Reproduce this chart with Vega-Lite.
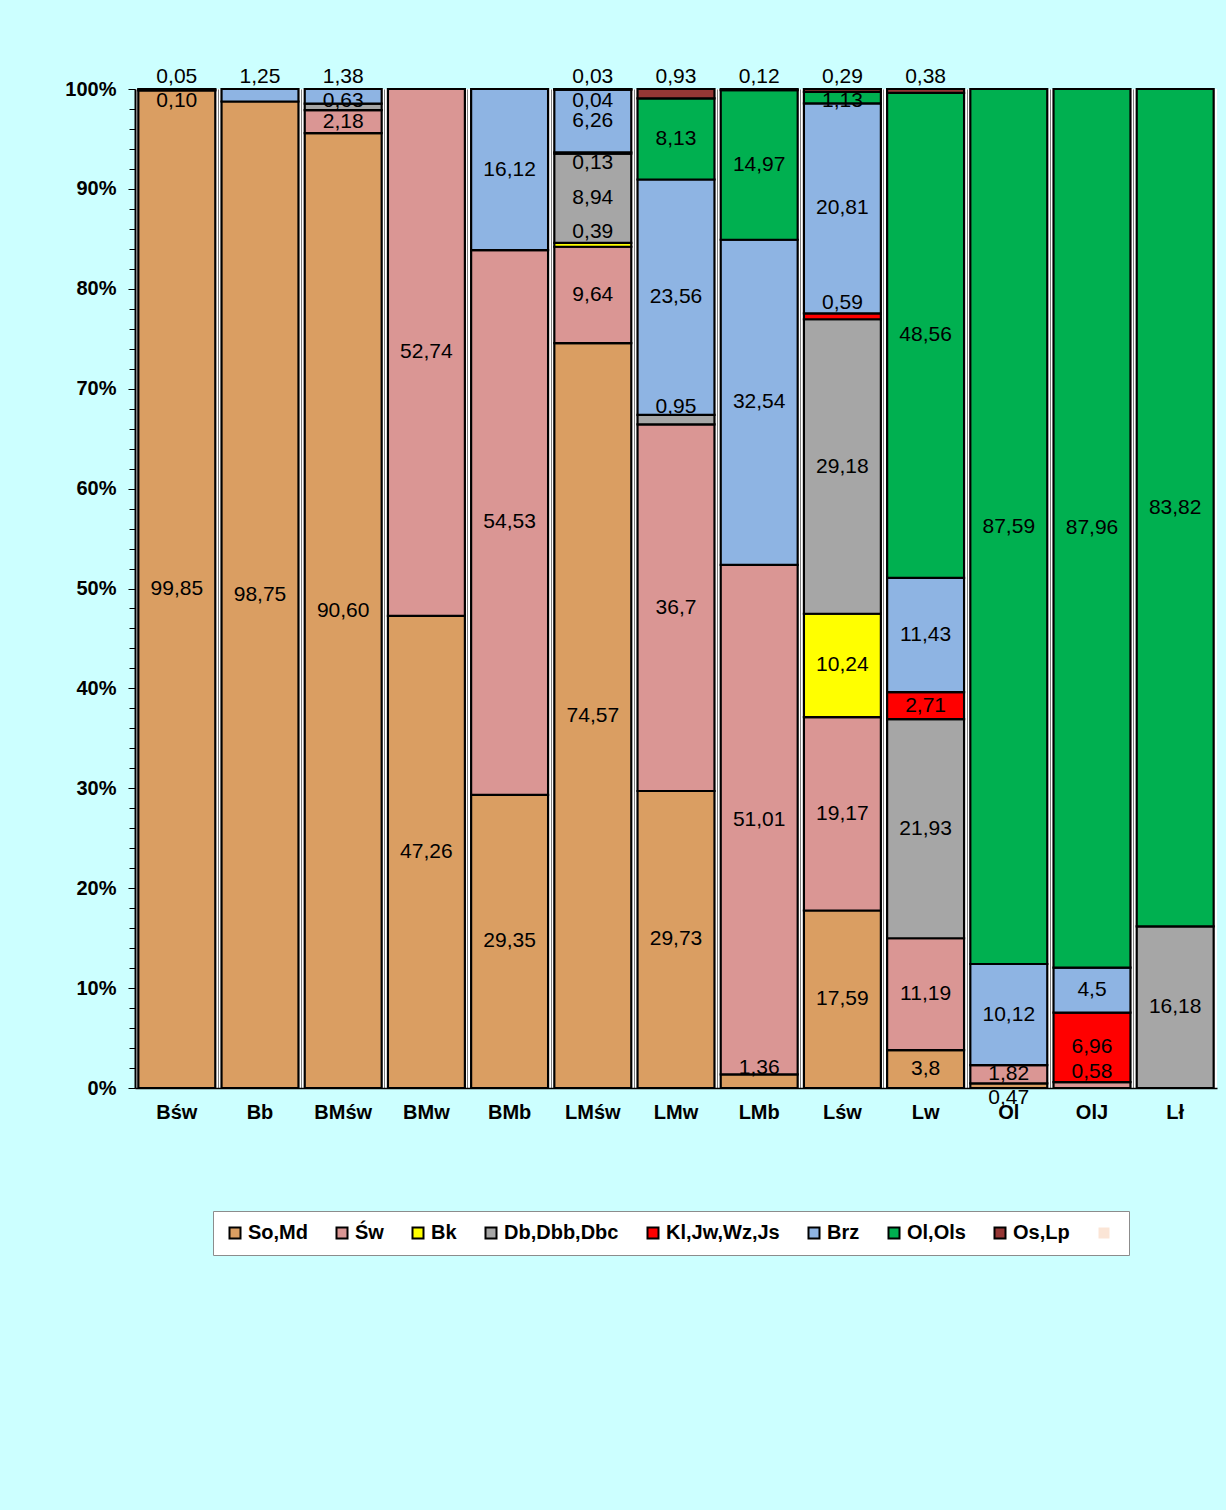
{
  "$schema": "https://vega.github.io/schema/vega-lite/v6.json",
  "autosize": {"type": "none"},
  "width": 1082,
  "height": 999,
  "padding": {"left": 135, "top": 89, "right": 9, "bottom": 422},
  "background": "#CCFFFF",
  "config": {
    "view": {"fill": "white", "stroke": null},
    "font": "Liberation Sans"
  },
  "data": {
    "values": [
      {"cat": "Bśw", "series": "So,Md", "value": 99.85, "label": "99,85"},
      {"cat": "Bśw", "series": "Św", "value": 0.10, "label": "0,10"},
      {"cat": "Bśw", "series": "Brz", "value": 0.05, "label": "0,05"},
      {"cat": "Bb", "series": "So,Md", "value": 98.75, "label": "98,75"},
      {"cat": "Bb", "series": "Brz", "value": 1.25, "label": "1,25"},
      {"cat": "BMśw", "series": "So,Md", "value": 90.60, "label": "90,60"},
      {"cat": "BMśw", "series": "Św", "value": 2.18, "label": "2,18"},
      {"cat": "BMśw", "series": "Db,Dbb,Dbc", "value": 0.63, "label": "0,63"},
      {"cat": "BMśw", "series": "Brz", "value": 1.38, "label": "1,38"},
      {"cat": "BMw", "series": "So,Md", "value": 47.26, "label": "47,26"},
      {"cat": "BMw", "series": "Św", "value": 52.74, "label": "52,74"},
      {"cat": "BMb", "series": "So,Md", "value": 29.35, "label": "29,35"},
      {"cat": "BMb", "series": "Św", "value": 54.53, "label": "54,53"},
      {"cat": "BMb", "series": "Brz", "value": 16.12, "label": "16,12"},
      {"cat": "LMśw", "series": "So,Md", "value": 74.57, "label": "74,57"},
      {"cat": "LMśw", "series": "Św", "value": 9.64, "label": "9,64"},
      {"cat": "LMśw", "series": "Bk", "value": 0.39, "label": "0,39"},
      {"cat": "LMśw", "series": "Db,Dbb,Dbc", "value": 8.94, "label": "8,94"},
      {"cat": "LMśw", "series": "Kl,Jw,Wz,Js", "value": 0.13, "label": "0,13"},
      {"cat": "LMśw", "series": "Brz", "value": 6.26, "label": "6,26"},
      {"cat": "LMśw", "series": "Ol,Ols", "value": 0.04, "label": "0,04"},
      {"cat": "LMśw", "series": "Os,Lp", "value": 0.03, "label": "0,03"},
      {"cat": "LMw", "series": "So,Md", "value": 29.73, "label": "29,73"},
      {"cat": "LMw", "series": "Św", "value": 36.7, "label": "36,7"},
      {"cat": "LMw", "series": "Db,Dbb,Dbc", "value": 0.95, "label": "0,95"},
      {"cat": "LMw", "series": "Brz", "value": 23.56, "label": "23,56"},
      {"cat": "LMw", "series": "Ol,Ols", "value": 8.13, "label": "8,13"},
      {"cat": "LMw", "series": "Os,Lp", "value": 0.93, "label": "0,93"},
      {"cat": "LMb", "series": "So,Md", "value": 1.36, "label": "1,36"},
      {"cat": "LMb", "series": "Św", "value": 51.01, "label": "51,01"},
      {"cat": "LMb", "series": "Brz", "value": 32.54, "label": "32,54"},
      {"cat": "LMb", "series": "Ol,Ols", "value": 14.97, "label": "14,97"},
      {"cat": "LMb", "series": "Os,Lp", "value": 0.12, "label": "0,12"},
      {"cat": "Lśw", "series": "So,Md", "value": 17.59, "label": "17,59"},
      {"cat": "Lśw", "series": "Św", "value": 19.17, "label": "19,17"},
      {"cat": "Lśw", "series": "Bk", "value": 10.24, "label": "10,24"},
      {"cat": "Lśw", "series": "Db,Dbb,Dbc", "value": 29.18, "label": "29,18"},
      {"cat": "Lśw", "series": "Kl,Jw,Wz,Js", "value": 0.59, "label": "0,59"},
      {"cat": "Lśw", "series": "Brz", "value": 20.81, "label": "20,81"},
      {"cat": "Lśw", "series": "Ol,Ols", "value": 1.13, "label": "1,13"},
      {"cat": "Lśw", "series": "Os,Lp", "value": 0.29, "label": "0,29"},
      {"cat": "Lw", "series": "So,Md", "value": 3.8, "label": "3,8"},
      {"cat": "Lw", "series": "Św", "value": 11.19, "label": "11,19"},
      {"cat": "Lw", "series": "Db,Dbb,Dbc", "value": 21.93, "label": "21,93"},
      {"cat": "Lw", "series": "Kl,Jw,Wz,Js", "value": 2.71, "label": "2,71"},
      {"cat": "Lw", "series": "Brz", "value": 11.43, "label": "11,43"},
      {"cat": "Lw", "series": "Ol,Ols", "value": 48.56, "label": "48,56"},
      {"cat": "Lw", "series": "Os,Lp", "value": 0.38, "label": "0,38"},
      {"cat": "Ol", "series": "So,Md", "value": 0.47, "label": "0,47"},
      {"cat": "Ol", "series": "Św", "value": 1.82, "label": "1,82"},
      {"cat": "Ol", "series": "Brz", "value": 10.12, "label": "10,12"},
      {"cat": "Ol", "series": "Ol,Ols", "value": 87.59, "label": "87,59"},
      {"cat": "OlJ", "series": "Św", "value": 0.58, "label": "0,58"},
      {"cat": "OlJ", "series": "Kl,Jw,Wz,Js", "value": 6.96, "label": "6,96"},
      {"cat": "OlJ", "series": "Brz", "value": 4.5, "label": "4,5"},
      {"cat": "OlJ", "series": "Ol,Ols", "value": 87.96, "label": "87,96"},
      {"cat": "Lł", "series": "Db,Dbb,Dbc", "value": 16.18, "label": "16,18"},
      {"cat": "Lł", "series": "Ol,Ols", "value": 83.82, "label": "83,82"}
    ]
  },
  "transform": [
    {"calculate": "indexof(['So,Md','Św','Bk','Db,Dbb,Dbc','Kl,Jw,Wz,Js','Brz','Ol,Ols','Os,Lp'], datum.series)", "as": "o"},
    {"stack": "value", "groupby": ["cat"], "sort": [{"field": "o", "order": "ascending"}], "offset": "normalize", "as": ["y0", "y1"]},
    {"calculate": "datum.y1 - datum.y0", "as": "sz"},
    {"window": [{"op": "lead", "field": "sz", "as": "nsz"}], "groupby": ["cat"], "sort": [{"field": "o", "order": "ascending"}]},
    {"calculate": "(datum.y1 > 0.99999 && datum.sz < 0.02) ? 1.012 : (datum.sz < 0.015 && datum.y1 > 0.985) ? 0.988 : (datum.sz < 0.005 && datum.y0 < 0.00001) ? -0.01 : (datum.sz < 0.015 && datum.nsz != null && datum.nsz < 0.065) ? (datum.y0 + datum.y1) / 2 - 0.01 : (datum.sz < 0.015) ? (datum.y0 + datum.y1) / 2 + 0.013 : (datum.y0 + datum.y1) / 2", "as": "ly"}
  ],
  "layer": [
    {
      "mark": {"type": "bar", "stroke": "black", "strokeWidth": 2.2},
      "encoding": {
        "x": {
          "field": "cat", "type": "nominal", "sort": null,
          "scale": {"domain": ["Bśw","Bb","BMśw","BMw","BMb","LMśw","LMw","LMb","Lśw","Lw","Ol","OlJ","Lł"], "paddingInner": 0.075, "paddingOuter": 0.04},
          "axis": {"title": null, "labelAngle": 0, "labelFont": "Liberation Sans", "labelFontSize": 20, "labelFontWeight": "bold", "labelColor": "black", "labelPadding": 14, "ticks": false, "domain": true, "domainColor": "black", "domainWidth": 1.5, "grid": false}
        },
        "y": {
          "field": "y0", "type": "quantitative",
          "scale": {"domain": [0, 1], "nice": false},
          "axis": {
            "title": null, "orient": "left",
            "values": [0,0.1,0.2,0.3,0.4,0.5,0.6,0.7,0.8,0.9,1],
            "format": ".0%",
            "labelFont": "Liberation Sans", "labelFontSize": 20, "labelFontWeight": "bold", "labelColor": "black",
            "labelPadding": 12, "tickSize": 7, "tickColor": "black", "tickWidth": 1,
            "domainColor": "black", "domainWidth": 2, "grid": false, "labelOverlap": false
          }
        },
        "y2": {"field": "y1"},
        "color": {
          "field": "series", "type": "nominal",
          "scale": {
            "domain": ["So,Md","Św","Bk","Db,Dbb,Dbc","Kl,Jw,Wz,Js","Brz","Ol,Ols","Os,Lp"," "],
            "range": ["#DA9E62","#DA9694","#FFFF00","#A6A6A6","#FF0000","#8EB4E3","#00B050","#953735","#FBE5D6"]
          },
          "legend": {
            "title": null, "orient": "none", "legendX": 78, "legendY": 1122,
            "direction": "horizontal", "columns": 9,
            "fillColor": "white", "strokeColor": "#8C8C8C", "padding": 12,
            "symbolType": "square", "symbolSize": 121, "symbolStrokeWidth": 2, "symbolStrokeColor": "black", "symbolOpacity": 1,
            "labelFont": "Liberation Sans", "labelFontSize": 20, "labelFontWeight": "bold", "labelColor": "black",
            "labelOffset": 3, "columnPadding": 24,
            "encode": {"symbols": {"update": {"stroke": {"signal": "datum.value === ' ' ? 'transparent' : 'black'"}}}}
          }
        }
      }
    },
    {
      "mark": {"type": "text", "font": "Liberation Sans", "fontSize": 21, "color": "black", "baseline": "middle", "align": "center"},
      "encoding": {
        "x": {
          "field": "cat", "type": "nominal", "sort": null,
          "axis": {"title": null, "labels": false, "ticks": false, "domain": false, "grid": true, "gridColor": "#7F7F7F", "gridWidth": 1, "bandPosition": -0.042}
        },
        "y": {
          "field": "ly", "type": "quantitative",
          "axis": {"title": null, "orient": "left", "labels": false, "domain": false, "grid": false, "tickSize": 6, "tickColor": "black", "tickWidth": 1,
                   "values": [0.02,0.04,0.06,0.08,0.12,0.14,0.16,0.18,0.22,0.24,0.26,0.28,0.32,0.34,0.36,0.38,0.42,0.44,0.46,0.48,0.52,0.54,0.56,0.58,0.62,0.64,0.66,0.68,0.72,0.74,0.76,0.78,0.82,0.84,0.86,0.88,0.92,0.94,0.96,0.98]}
        },
        "text": {"field": "label"}
      }
    }
  ],
  "resolve": {"axis": {"x": "independent", "y": "independent"}}
}
